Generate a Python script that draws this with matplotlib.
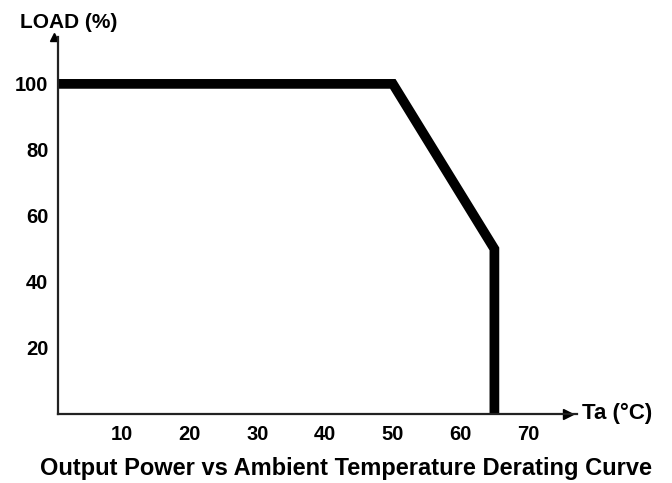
import matplotlib
matplotlib.use("Agg")
import matplotlib.pyplot as plt

# Data
temp = [0, 50, 65, 65]
load = [100, 100, 50, 0]
x_ticks = [10, 20, 30, 40, 50, 60, 70]
y_ticks = [20, 40, 60, 80, 100]

plt.rcParams['font.family'] = ['Liberation Sans', 'DejaVu Sans']
plt.rcParams['font.weight'] = 'bold'

W, H = 672, 483
fig = plt.figure(figsize=(W/100, H/100), dpi=100)
ax = fig.add_axes([58/W, 69/H, (577-58)/W, (414-37)/H])
ax.set_xlim(0.55, 77.2)
ax.set_ylim(0, 114.2)

ax.plot(temp, load, color='black', linewidth=7, solid_joinstyle='miter', solid_capstyle='butt')

for s in ['top', 'right']:
    ax.spines[s].set_visible(False)
for s in ['left', 'bottom']:
    ax.spines[s].set_linewidth(1.6)
    ax.spines[s].set_color('#222222')

# arrowheads
ax.plot(75.9, 0, marker='>', color='black', markersize=7, clip_on=False)
ax.plot(0, 1, marker='^', color='black', markersize=6, transform=ax.get_xaxis_transform(), clip_on=False)

ax.set_xticks(x_ticks)
ax.set_yticks(y_ticks)
ax.set_xticklabels([str(v) for v in x_ticks], fontsize=14.5, fontweight='bold')
ax.set_yticklabels([str(v) for v in y_ticks], fontsize=14.5, fontweight='bold')
ax.tick_params(length=0)
ax.tick_params(axis='x', pad=8)
ax.tick_params(axis='y', pad=7)

fig.text(20/W, 1 - 22/H, 'LOAD (%)', fontsize=15, fontweight='bold', va='center', ha='left')
fig.text(582/W, 1 - 413/H, 'Ta (°C)', fontsize=16, fontweight='bold', va='center', ha='left')
fig.text(346/W, 1 - 468/H, 'Output Power vs Ambient Temperature Derating Curve', fontsize=17,
         fontweight='bold', va='center', ha='center')

fig.savefig('out.png', dpi=100)
